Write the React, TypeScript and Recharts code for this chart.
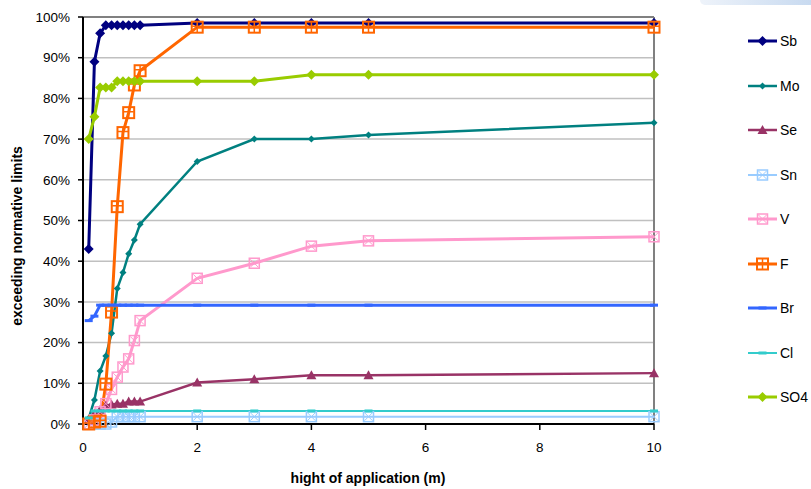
import { LineChart, Line, XAxis, YAxis, CartesianGrid, ReferenceLine } from "recharts";

// heights of application (m)
const heights = [0.1, 0.2, 0.3, 0.4, 0.5, 0.6, 0.7, 0.8, 0.9, 1, 2, 3, 4, 5, 10];

// share of samples exceeding normative limits (%)
const sb = [43, 89, 96, 98, 98, 98, 98, 98, 98, 98, 98.5, 98.5, 98.5, 98.5, 98.5];
const mo = [1.4, 5.9, 13, 16.7, 22.3, 33.3, 37.2, 41.8, 45.2, 49.1, 64.5, 70, 70, 71, 74];
const se = [1, 2.5, 3.5, 4.5, 4.8, 5, 5, 5.5, 5.5, 5.5, 10.2, 11, 12, 12, 12.5];
const sn = [0, 0, 0, 0, 0.5, 1.8, 1.8, 1.8, 1.8, 1.8, 1.8, 1.8, 1.8, 1.8, 1.8];
const v = [0, 1, 3, 5, 8.5, 11.5, 14, 16, 20.5, 25.4, 35.8, 39.5, 43.7, 45, 46];
const f = [0, 0.5, 0.7, 9.8, 27.5, 53.4, 71.6, 76.5, 83.3, 86.8, 97.5, 97.5, 97.5, 97.5, 97.5];
const br = [25.4, 26.5, 29.2, 29.2, 29.2, 29.2, 29.2, 29.2, 29.2, 29.2, 29.2, 29.2, 29.2, 29.2, 29.2];
const cl = [1.5, 3.2, 3.2, 3.2, 3.2, 3.2, 3.2, 3.2, 3.2, 3.2, 3.2, 3.2, 3.2, 3.2, 3.2];
const so4 = [70, 75.5, 82.7, 82.7, 82.7, 84.2, 84.2, 84.2, 84.2, 84.2, 84.2, 84.2, 85.8, 85.8, 85.8];

const xTicks = [0, 2, 4, 6, 8, 10];
const yTicks = [0, 10, 20, 30, 40, 50, 60, 70, 80, 90, 100];

const series = [
  { name: "Sb", values: sb, color: "#000080", shape: "diamond", width: 3 },
  { name: "Mo", values: mo, color: "#008080", shape: "smallDiamond", width: 2.5 },
  { name: "Se", values: se, color: "#993366", shape: "triangle", width: 2.5 },
  { name: "Sn", values: sn, color: "#99CCFF", shape: "squareX", width: 2 },
  { name: "V", values: v, color: "#FF99CC", shape: "squareX", width: 3 },
  { name: "F", values: f, color: "#FF6600", shape: "squarePlus", width: 3 },
  { name: "Br", values: br, color: "#3366FF", shape: "dash", width: 3 },
  { name: "Cl", values: cl, color: "#33CCCC", shape: "dash", width: 2 },
  { name: "SO4", values: so4, color: "#99CC00", shape: "diamond", width: 3 },
];

const data = heights.map((x, i) => {
  const row: Record<string, number> = { x };
  series.forEach((s) => {
    row[s.name] = s.values[i];
  });
  return row;
});

function Marker({ shape, cx, cy, color }: { shape: string; cx: number; cy: number; color: string }) {
  if (shape === "diamond" || shape === "smallDiamond") {
    const r = shape === "diamond" ? 5 : 3.5;
    return (
      <polygon
        points={`${cx},${cy - r} ${cx + r},${cy} ${cx},${cy + r} ${cx - r},${cy}`}
        fill={color}
      />
    );
  }
  if (shape === "triangle") {
    return (
      <polygon points={`${cx},${cy - 5} ${cx + 5},${cy + 4} ${cx - 5},${cy + 4}`} fill={color} />
    );
  }
  if (shape === "squareX") {
    return (
      <g stroke={color} strokeWidth={1.5} fill="none">
        <rect x={cx - 5} y={cy - 5} width={10} height={10} />
        <path d={`M${cx - 4},${cy - 4}L${cx + 4},${cy + 4}M${cx + 4},${cy - 4}L${cx - 4},${cy + 4}`} strokeWidth={1} />
      </g>
    );
  }
  if (shape === "squarePlus") {
    return (
      <g stroke={color} strokeWidth={2} fill="none">
        <rect x={cx - 5.5} y={cy - 5.5} width={11} height={11} />
        <path d={`M${cx},${cy - 5}L${cx},${cy + 5}M${cx - 5},${cy - 1}L${cx + 5},${cy - 1}`} strokeWidth={1.5} />
      </g>
    );
  }
  return <rect x={cx - 4} y={cy - 1.5} width={8} height={3} fill={color} />;
}

function makeDot(shape: string, color: string, name: string) {
  return (props: any) => {
    const { cx, cy, index } = props;
    if (cx == null || cy == null) return <g key={`${name}-${index}`} />;
    return (
      <g key={`${name}-${index}`}>
        <Marker shape={shape} cx={cx} cy={cy} color={color} />
      </g>
    );
  };
}

const font = "'Liberation Sans', Arial, sans-serif";

export default function App() {
  return (
    <div
      style={{
        position: "absolute",
        left: 0,
        top: 0,
        width: 811,
        height: 489,
        background: "#fff",
        fontFamily: font,
        overflow: "hidden",
      }}
    >
      <div
        style={{
          position: "absolute",
          left: 700,
          top: 0,
          width: 111,
          height: 5,
          background: "linear-gradient(to right, #eef3fa, #c8daf0)",
          borderBottomLeftRadius: 6,
        }}
      />

      <LineChart
        width={811}
        height={489}
        data={data}
        margin={{ top: 17, right: 157, left: 23, bottom: 35 }}
      >
        <CartesianGrid vertical={false} stroke="#c0c0c0" strokeWidth={1.5} />
        <XAxis
          dataKey="x"
          type="number"
          domain={[0, 10]}
          ticks={xTicks}
          axisLine={{ stroke: "#000", strokeWidth: 2 }}
          tickLine={{ stroke: "#000", strokeWidth: 1.5 }}
          tickSize={6}
          tickMargin={12}
          tick={{ fill: "#000", fontSize: 13.5, fontFamily: font }}
          height={30}
        />
        <YAxis
          type="number"
          domain={[0, 100]}
          ticks={yTicks}
          tickFormatter={(t) => `${t}%`}
          axisLine={{ stroke: "#000", strokeWidth: 2 }}
          tickLine={{ stroke: "#000", strokeWidth: 1.5 }}
          tickSize={5}
          tickMargin={8}
          tick={{ fill: "#000", fontSize: 13.5, fontFamily: font }}
          width={60}
        />
        <ReferenceLine y={100} stroke="#808080" strokeWidth={2} />
        <ReferenceLine x={10} stroke="#808080" strokeWidth={2} />
        {series.map((s) => (
          <Line
            key={s.name}
            type="linear"
            dataKey={s.name}
            stroke={s.color}
            strokeWidth={s.width}
            dot={makeDot(s.shape, s.color, s.name)}
            activeDot={false}
            isAnimationActive={false}
          />
        ))}
      </LineChart>

      <div
        style={{
          position: "absolute",
          left: 17,
          top: 236,
          transform: "translate(-50%, -50%) rotate(-90deg)",
          fontSize: 14,
          fontWeight: "bold",
          whiteSpace: "nowrap",
        }}
      >
        exceeding normative limits
      </div>
      <div
        style={{
          position: "absolute",
          left: 368,
          top: 478,
          transform: "translate(-50%, -50%)",
          fontSize: 14,
          fontWeight: "bold",
          whiteSpace: "nowrap",
        }}
      >
        hight of application (m)
      </div>

      {series.map((s, i) => (
        <div
          key={s.name}
          style={{
            position: "absolute",
            left: 746,
            top: 41 + i * 44.5 - 9,
            height: 18,
            display: "flex",
            alignItems: "center",
            fontSize: 14,
          }}
        >
          <svg width={33} height={18}>
            <line x1={2} y1={9} x2={31} y2={9} stroke={s.color} strokeWidth={s.width} />
            <Marker shape={s.shape} cx={16.5} cy={9} color={s.color} />
          </svg>
          <span style={{ marginLeft: 1 }}>{s.name}</span>
        </div>
      ))}
    </div>
  );
}
